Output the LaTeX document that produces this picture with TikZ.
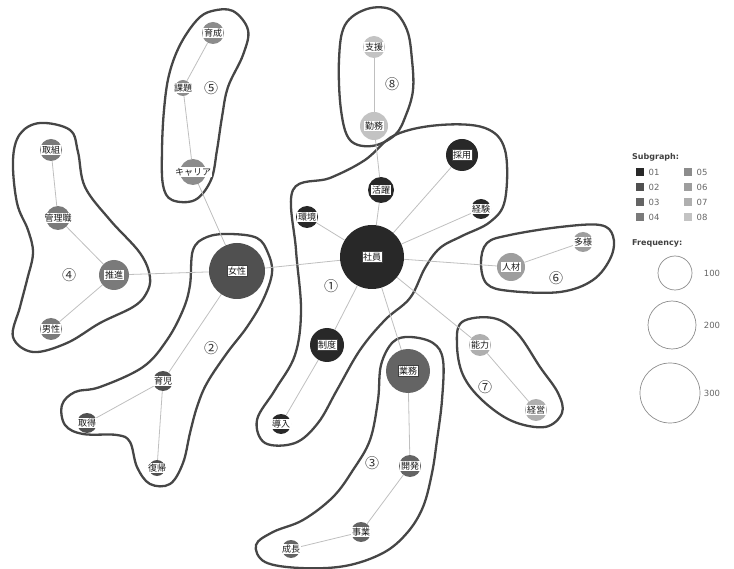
\documentclass[tikz,border=0pt]{standalone}
\usepackage{fontspec}
\setmainfont{DejaVu Sans}
\newfontfamily\jp{Noto Sans CJK JP}
\usetikzlibrary{positioning,backgrounds}
\definecolor{sg01}{RGB}{40,40,40}
\definecolor{sg02}{RGB}{80,80,80}
\definecolor{sg03}{RGB}{100,100,100}
\definecolor{sg04}{RGB}{122,122,122}
\definecolor{sg05}{RGB}{140,140,140}
\definecolor{sg06}{RGB}{158,158,158}
\definecolor{sg07}{RGB}{175,175,175}
\definecolor{sg08}{RGB}{195,195,195}
\definecolor{hullGray}{RGB}{70,70,70}
\tikzset{
    kw/.style={circle, draw=none, inner sep=0pt},
    kwtext/.style={font=\jp\fontsize{9}{9}\selectfont, fill=white, inner sep=0.8pt, text=black!90},
    kwbox/.style={kwtext, draw=black!75, line width=0.5pt, inner sep=1.2pt},
    link/.style={draw=black!25, line width=0.8pt},
    hull/.style={draw=hullGray, line width=2.3pt, smooth cycle, tension=0.6},
    tag/.style={font=\jp\fontsize{14}{14}\selectfont, text=black!80},
    legend/.style={font=\fontsize{8.5}{9}\selectfont, text=black!60, inner sep=1pt},
    legendhead/.style={font=\bfseries\fontsize{8}{9}\selectfont, text=black!75, inner sep=0pt, anchor=west},
    swatch/.style={rectangle, inner sep=0pt, minimum size=8.5pt},
    freq/.style={circle, draw=black!45, line width=0.7pt, inner sep=0pt}
}

\begin{document}
\begin{tikzpicture}[x=1pt, y=-1pt]
  \useasboundingbox (0,0) rectangle (734,569);

  % subgraph 01
  \node[kw, fill=sg01, minimum size=64, label={[kwbox]center:社員}] (shain) at (372,257) {};
  \node[kw, fill=sg01, minimum size=32, label={[kwbox]center:採用}] (saiyou) at (462,155) {};
  \node[kw, fill=sg01, minimum size=26, label={[kwtext]center:活躍}] (katsuyaku) at (381,190) {};
  \node[kw, fill=sg01, minimum size=22, label={[kwtext]center:環境}] (kankyou) at (307,217) {};
  \node[kw, fill=sg01, minimum size=20, label={[kwtext]center:経験}] (keiken) at (481,209) {};
  \node[kw, fill=sg01, minimum size=34, label={[kwbox]center:制度}] (seido) at (327,345) {};
  \node[kw, fill=sg01, minimum size=20, label={[kwtext]center:導入}] (dounyuu) at (281,424) {};
  % subgraph 02
  \node[kw, fill=sg02, minimum size=56, label={[kwbox]center:女性}] (josei) at (237,271) {};
  \node[kw, fill=sg02, minimum size=20, label={[kwtext]center:育児}] (ikuji) at (163,381) {};
  \node[kw, fill=sg02, minimum size=20, label={[kwtext]center:取得}] (shutoku) at (87,423) {};
  \node[kw, fill=sg02, minimum size=16, label={[kwtext]center:復帰}] (fukki) at (157,468) {};
  % subgraph 03
  \node[kw, fill=sg03, minimum size=44, label={[kwbox]center:業務}] (gyoumu) at (408,371) {};
  \node[kw, fill=sg03, minimum size=22, label={[kwtext]center:開発}] (kaihatsu) at (410,466) {};
  \node[kw, fill=sg03, minimum size=20, label={[kwtext]center:事業}] (jigyou) at (361,532) {};
  \node[kw, fill=sg03, minimum size=18, label={[kwtext]center:成長}] (seichou) at (291,549) {};
  % subgraph 04
  \node[kw, fill=sg04, minimum size=30, label={[kwtext]center:推進}] (suishin) at (114,275) {};
  \node[kw, fill=sg04, minimum size=24, label={[kwtext]center:管理職}] (kanrishoku) at (58,218) {};
  \node[kw, fill=sg04, minimum size=22, label={[kwtext]center:取組}] (torikumi) at (51,150) {};
  \node[kw, fill=sg04, minimum size=22, label={[kwtext]center:男性}] (dansei) at (51,329) {};
  % subgraph 05
  \node[kw, fill=sg05, minimum size=22, label={[kwtext]center:育成}] (ikusei) at (213,33) {};
  \node[kw, fill=sg05, minimum size=16, label={[kwtext]center:課題}] (kadai) at (183,88) {};
  \node[kw, fill=sg05, minimum size=26, label={[kwtext]center:キャリア}] (career) at (193,172) {};
  % subgraph 06
  \node[kw, fill=sg06, minimum size=28, label={[kwtext]center:人材}] (jinzai) at (511,267) {};
  \node[kw, fill=sg06, minimum size=20, label={[kwtext]center:多様}] (tayou) at (583,242) {};
  % subgraph 07
  \node[kw, fill=sg07, minimum size=22, label={[kwtext]center:能力}] (nouryoku) at (480,345) {};
  \node[kw, fill=sg07, minimum size=22, label={[kwtext]center:経営}] (keiei) at (536,410) {};
  % subgraph 08
  \node[kw, fill=sg08, minimum size=22, label={[kwtext]center:支援}] (shien) at (374,47) {};
  \node[kw, fill=sg08, minimum size=28, label={[kwtext]center:勤務}] (kinmu) at (374,126) {};

  % subgraph numbers
  \node[tag] (t1) at (331,286) {①};
  \node[tag] (t2) at (211,348) {②};
  \node[tag] (t3) at (372,463) {③};
  \node[tag] (t4) at (69,275) {④};
  \node[tag] (t5) at (211,88) {⑤};
  \node[tag] (t6) at (556,278) {⑥};
  \node[tag] (t7) at (485,387) {⑦};
  \node[tag] (t8) at (392,84) {⑧};

  \begin{scope}[on background layer]
    % hulls
    \draw[hull] plot coordinates {(293,190) (330,178) (365,160) (395,135) (440,125) (485,128) (505,150) (505,200) (490,222) (462,236) (440,248) (425,268) (410,298) (385,320) (360,350) (337,390) (318,423) (295,443) (265,443) (257,420) (275,390) (295,355) (301,310) (296,250)};
    \draw[hull] plot coordinates {(193,250) (207,237) (230,234) (257,238) (268,253) (272,273) (263,300) (247,327) (227,353) (207,383) (197,407) (190,433) (183,463) (170,484) (150,484) (137,467) (130,442) (117,435) (83,434) (65,425) (62,405) (75,392) (100,387) (143,367) (167,340) (183,310) (190,285)};
    \draw[hull] plot coordinates {(393,342) (410,337) (433,343) (443,360) (442,400) (437,440) (432,473) (423,507) (407,533) (383,553) (345,566) (300,568) (265,562) (256,545) (273,532) (303,520) (333,497) (353,470) (370,440) (378,400) (381,365)};
    \draw[hull] plot coordinates {(40,123) (70,130) (78,152) (85,187) (110,220) (140,253) (150,277) (146,294) (133,307) (100,323) (67,343) (33,352) (13,337) (20,307) (27,280) (33,253) (28,230) (17,203) (13,160) (20,134)};
    \draw[hull] plot coordinates {(197,20) (212,11) (233,11) (248,30) (243,55) (228,87) (222,117) (217,150) (211,180) (195,200) (172,200) (163,185) (162,150) (164,110) (169,75) (180,45)};
    \draw[hull] plot coordinates {(487,243) (510,235) (560,227) (600,225) (613,236) (611,257) (593,280) (560,292) (510,291) (487,284) (481,263)};
    \draw[hull] plot coordinates {(462,322) (493,318) (517,333) (540,367) (558,393) (562,413) (545,427) (512,421) (482,400) (463,375) (457,345)};
    \draw[hull] plot coordinates {(345,25) (367,9) (392,10) (407,30) (412,60) (413,90) (406,115) (395,135) (372,146) (350,140) (341,110) (339,60)};
    % links
    \draw[link] (shain) -- (saiyou);
    \draw[link] (shain) -- (katsuyaku);
    \draw[link] (shain) -- (kankyou);
    \draw[link] (shain) -- (keiken);
    \draw[link] (shain) -- (seido);
    \draw[link] (shain) -- (josei);
    \draw[link] (shain) -- (jinzai);
    \draw[link] (shain) -- (gyoumu);
    \draw[link] (shain) -- (nouryoku);
    \draw[link] (katsuyaku) -- (kinmu);
    \draw[link] (seido) -- (dounyuu);
    \draw[link] (josei) -- (suishin);
    \draw[link] (josei) -- (career);
    \draw[link] (josei) -- (ikuji);
    \draw[link] (suishin) -- (kanrishoku);
    \draw[link] (suishin) -- (dansei);
    \draw[link] (kanrishoku) -- (torikumi);
    \draw[link] (ikusei) -- (kadai);
    \draw[link] (kadai) -- (career);
    \draw[link] (shien) -- (kinmu);
    \draw[link] (jinzai) -- (tayou);
    \draw[link] (nouryoku) -- (keiei);
    \draw[link] (gyoumu) -- (kaihatsu);
    \draw[link] (kaihatsu) -- (jigyou);
    \draw[link] (jigyou) -- (seichou);
    \draw[link] (ikuji) -- (shutoku);
    \draw[link] (ikuji) -- (fukki);
  \end{scope}

  % legend
  \node[legendhead] (subhead) at (632,157) {Subgraph:};
  \node[swatch, fill=sg01] (sw01) at (640,172) {};
  \node[swatch, fill=sg02] (sw02) at (640,187) {};
  \node[swatch, fill=sg03] (sw03) at (640,202) {};
  \node[swatch, fill=sg04] (sw04) at (640,217) {};
  \node[swatch, fill=sg05] (sw05) at (688,172) {};
  \node[swatch, fill=sg06] (sw06) at (688,187) {};
  \node[swatch, fill=sg07] (sw07) at (688,202) {};
  \node[swatch, fill=sg08] (sw08) at (688,217) {};
  \node[legend, right=3pt of sw01] (l01) {01};
  \node[legend, right=3pt of sw02] (l02) {02};
  \node[legend, right=3pt of sw03] (l03) {03};
  \node[legend, right=3pt of sw04] (l04) {04};
  \node[legend, right=3pt of sw05] (l05) {05};
  \node[legend, right=3pt of sw06] (l06) {06};
  \node[legend, right=3pt of sw07] (l07) {07};
  \node[legend, right=3pt of sw08] (l08) {08};

  \node[legendhead] (freqhead) at (632,243) {Frequency:};
  \node[freq, minimum size=34] (f100) at (675,273) {};
  \node[freq, minimum size=48] (f200) at (672,325) {};
  \node[freq, minimum size=60] (f300) at (670,393) {};
  \node[legend] (l100) at (712,273) {100};
  \node[legend] (l200) at (712,325) {200};
  \node[legend] (l300) at (712,393) {300};
\end{tikzpicture}
\end{document}
